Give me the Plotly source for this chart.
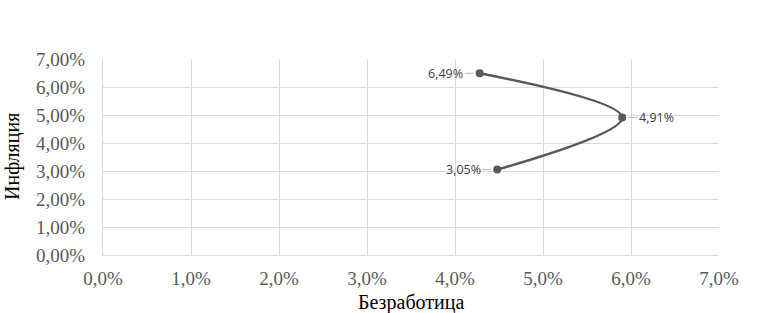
import plotly.graph_objects as go

# Data
unemployment = [0.0428, 0.0590, 0.0448]
inflation = [0.0649, 0.0491, 0.0305]
label_side = [-1, 1, -1]
x_title = "Безработица"
y_title = "Инфляция"

labels = [f"{v*100:.2f}%".replace(".", ",") for v in inflation]

fig = go.Figure()
fig.add_trace(go.Scatter(
    x=unemployment, y=inflation, mode="lines+markers",
    line=dict(shape="spline", smoothing=1.0, color="#595959", width=2.5),
    marker=dict(size=8, color="#595959"),
    hoverinfo="skip", showlegend=False,
))

for xv, yv, t, s in zip(unemployment, inflation, labels, label_side):
    fig.add_annotation(
        x=xv, y=yv, text=t, showarrow=True, arrowhead=0, arrowwidth=1,
        arrowcolor="#bfbfbf", ax=34 * s, ay=0, standoff=6,
        font=dict(family="Open Sans", size=12.5, color="#404040"),
    )

title_font = dict(family="Liberation Serif", size=20, color="#000000")
fig.add_annotation(xref="paper", yref="paper", x=0.5, y=0, text=x_title,
                   showarrow=False, xanchor="center", yanchor="middle",
                   yshift=-47, font=title_font)
fig.add_annotation(xref="paper", yref="paper", x=0, y=0.5, text=y_title,
                   showarrow=False, xanchor="center", yanchor="middle",
                   xshift=-91, textangle=-90, font=title_font)

axis_common = dict(
    showgrid=True, gridcolor="#d9d9d9", gridwidth=1, automargin=False,
    zeroline=False, showline=True, linecolor="#d9d9d9", mirror=False,
    ticks="outside", tickcolor="rgba(0,0,0,0)",
    tickfont=dict(family="Liberation Serif", size=19, color="#595959"),
)

fig.update_xaxes(range=[0, 0.07], dtick=0.01, tickformat=".1%", ticklen=6,
                 **axis_common)
fig.update_yaxes(range=[0, 0.07], dtick=0.01, tickformat=".2%", ticklen=13,
                 **axis_common)

fig.update_layout(
    width=767, height=313,
    margin=dict(l=103, r=48, t=59, b=58),
    separators=", ",
    paper_bgcolor="white", plot_bgcolor="white",
)

fig.write_html("out.html", config={"displayModeBar": False},
               post_script="document.body.style.margin='0';")
